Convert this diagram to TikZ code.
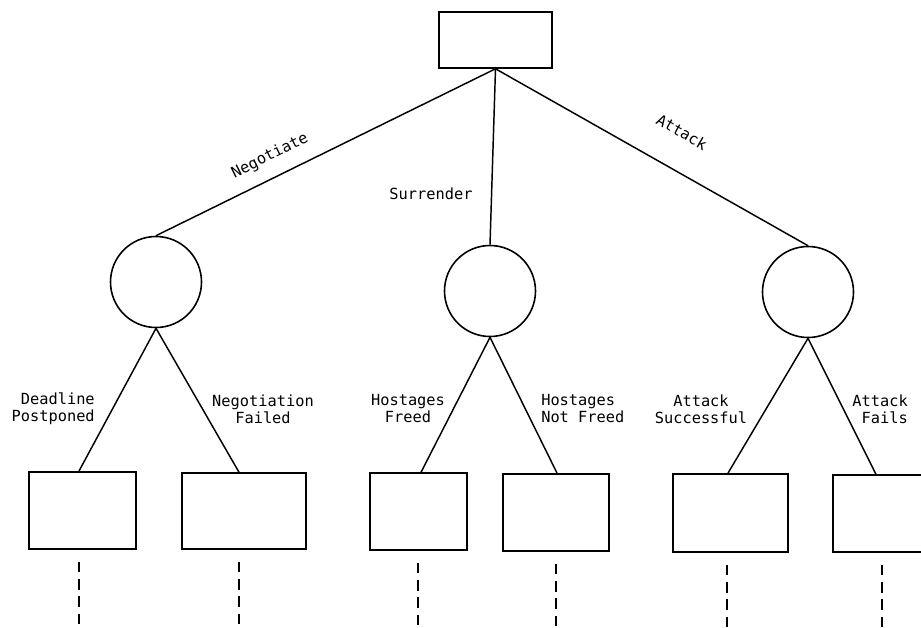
\documentclass[tikz,border=0pt]{standalone}
\usepackage{fontspec}
\newfontfamily\lblfont{DejaVu Sans Mono}
\usetikzlibrary{calc}
\tikzset{
  box/.style={draw, line width=1.2pt, inner sep=0pt},
  chance/.style={draw, circle, line width=1.2pt, inner sep=0pt, minimum size=68.25pt},
  link/.style={line width=1.1pt},
  dashline/.style={line width=0.8pt, dash pattern=on 8pt off 5pt},
  lbl/.style={font=\lblfont\fontsize{11.5pt}{12.75pt}\selectfont, inner sep=0pt}
}
\begin{document}
\begin{tikzpicture}[x=0.75pt,y=-0.75pt]
\useasboundingbox (0,0) rectangle (921,628);
\clip (0,0) rectangle (921,628);
% root
\node[box, minimum width=84.75pt, minimum height=42pt] (r) at (495.5,40) {};
% chance nodes
\node[chance] (c1) at (156,282) {};
\node[chance] (c2) at (490,291) {};
\node[chance] (c3) at (808,292) {};
% outcome boxes
\node[box, minimum width=80.25pt, minimum height=57.75pt] (b1) at (82.5,510.5) {};
\node[box, minimum width=93pt, minimum height=57pt] (b2) at (244,511) {};
\node[box, minimum width=72.75pt, minimum height=57.75pt] (b3) at (418.5,511.5) {};
\node[box, minimum width=79.5pt, minimum height=57.75pt] (b4) at (556,512.5) {};
\node[box, minimum width=86.25pt, minimum height=58.5pt] (b5) at (730.5,513) {};
\node[box, minimum width=69pt, minimum height=57.75pt] (b6) at (879,513.5) {};
% top connectors
\draw[link] (r.south) -- (c1.north);
\draw[link] (r.south) -- (c2.north);
\draw[link] (r.south) -- (c3.north);
% lower connectors
\draw[link] (c1.south) -- ($(b1.north west)!0.467!(b1.north east)$);
\draw[link] (c1.south) -- ($(b2.north west)!0.46!(b2.north east)$);
\draw[link] (c2.south) -- ($(b3.north west)!0.526!(b3.north east)$);
\draw[link] (c2.south) -- ($(b4.north west)!0.51!(b4.north east)$);
\draw[link] (c3.south) -- ($(b5.north west)!0.478!(b5.north east)$);
\draw[link] (c3.south) -- ($(b6.north west)!0.467!(b6.north east)$);
% dashed continuations
\coordinate (e1) at (79,630);
\coordinate (e2) at (239,630);
\coordinate (e3) at (418,630);
\coordinate (e4) at (556,630);
\coordinate (e5) at (727,630);
\coordinate (e6) at (882,630);
\foreach \i in {1,...,6}{
  \draw[dashline] ($(b\i.south -| e\i)+(0,12)$) -- (e\i);
}
% branch labels
\node[lbl, rotate=26.4] (lneg) at (270,156) {Negotiate};
\node[lbl] (lsur) at (431,194) {Surrender};
\node[lbl, rotate=-29.7] (latt) at (682,132) {Attack};
% outcome labels
\node[lbl, align=right, anchor=east] (l1) at (95,409) {Deadline\\Postponed};
\node[lbl, align=center] (l2) at (263,409) {Negotiation\\Failed};
\node[lbl, align=center] (l3) at (408,409) {Hostages\\Freed};
\node[lbl, align=left, anchor=west] (l4) at (541,409) {Hostages\\Not Freed};
\node[lbl, align=center] (l5) at (701,409) {Attack\\Successful};
\node[lbl, align=right, anchor=east] (l6) at (908,409) {Attack\\Fails};
\end{tikzpicture}
\end{document}
